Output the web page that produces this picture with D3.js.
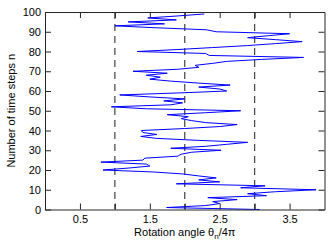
<!DOCTYPE html>
<html>
<head>
<meta charset="utf-8">
<script src="https://cdn.jsdelivr.net/npm/d3@7/dist/d3.min.js"></script>
<style>
  body { margin: 0; background: #fff; }
  text { font-family: "Liberation Sans", Arial, sans-serif; }
</style>
</head>
<body>
<svg id="chart"></svg>
<script>
// rotation angle (theta_n / 4pi) read at each time step n
var steps = d3.range(0, 100)
var angles = [3.07, 1.74, 2.3, 2.5, 2.4, 2.75, 2.33, 3.17, 2.9, 3.3,
  3.88, 2.8, 3.15, 1.88, 2.5, 2.2, 2.45, 2.2, 1.97, 1.55,
  0.83, 1.2, 1.5, 1.45, 0.8, 1.4, 1.43, 1.9, 1.95, 2.1,
  2.52, 1.8, 2.3, 2.6, 2.9, 2.2, 1.6, 1.37, 1.6, 1.4,
  1.38, 2.0, 2.5, 2.75, 2.3, 2.1, 1.95, 2.05, 1.75, 2.3,
  2.8, 1.45, 0.95, 1.8, 1.97, 1.7, 2.0, 1.5, 1.07, 1.9,
  2.6, 2.5, 2.2, 2.65, 2.2, 1.8, 1.5, 1.65, 1.45, 1.75,
  1.26, 1.9, 2.2, 2.15, 2.4, 2.6, 3.1, 3.7, 2.35, 2.3,
  1.32, 1.9, 2.4, 2.9, 3.3, 3.68, 3.3, 2.9, 3.2, 3.5,
  2.45, 2.31, 1.6, 1.0, 1.71, 1.19, 1.88, 1.47, 1.9, 2.28]
var xTicks = [0.5, 1, 1.5, 2, 2.5, 3, 3.5]
var yTicks = [0, 10, 20, 30, 40, 50, 60, 70, 80, 90, 100]
var refLines = [1, 2, 3]

var margin = {top: 12, right: 4.5, bottom: 33.5, left: 45},
  W = 329, H = 243,
  width = W - margin.left - margin.right,
  height = H - margin.top - margin.bottom

var svg = d3.select("#chart").attr("width", W).attr("height", H)
var g = svg.append("g")
  .attr("transform", "translate(" + margin.left + "," + margin.top + ")")

var x = d3.scaleLinear().domain([0, 4]).range([0, width])
var y = d3.scaleLinear().domain([0, 100]).range([height, 0])

var axisColor = "#262626"

// dashed reference lines
g.selectAll(".ref")
  .data(refLines)
  .enter()
  .append("line")
  .attr("x1", function(d){ return x(d) })
  .attr("x2", function(d){ return x(d) })
  .attr("y1", 0)
  .attr("y2", height)
  .attr("stroke", "#444")
  .attr("stroke-width", 1.2)
  .attr("stroke-dasharray", "7,5")

// the walk
var line = d3.line()
  .x(function(d, i){ return x(d) })
  .y(function(d, i){ return y(steps[i]) })

g.append("path")
  .datum(angles)
  .attr("d", line)
  .attr("fill", "none")
  .attr("stroke", "#0000ff")
  .attr("stroke-width", 1)

// axes, ticks pointing inward
var fmtX = function(d){ return (d % 1 === 0) ? "" : d3.format(".1f")(d) }

var xb = g.append("g")
  .attr("transform", "translate(0," + height + ")")
  .call(d3.axisBottom(x).tickValues(xTicks).tickSizeInner(-6).tickSizeOuter(0).tickPadding(6).tickFormat(fmtX))
var xt = g.append("g")
  .call(d3.axisTop(x).tickValues(xTicks).tickSizeInner(-6).tickSizeOuter(0).tickFormat(""))
var yl = g.append("g")
  .call(d3.axisLeft(y).tickValues(yTicks).tickSizeInner(-6).tickSizeOuter(0).tickPadding(4))
var yr = g.append("g")
  .attr("transform", "translate(" + width + ",0)")
  .call(d3.axisRight(y).tickValues(yTicks).tickSizeInner(-6).tickSizeOuter(0).tickFormat(""))

;[xb, xt, yl, yr].forEach(function(a){
  a.selectAll("path").attr("stroke", axisColor)
  a.selectAll("line").attr("stroke", axisColor)
  a.selectAll("text")
    .attr("fill", "#000")
    .style("font-size", "11px")
    .style("font-family", "'Liberation Sans', Arial, sans-serif")
})

// axis labels
svg.append("text")
  .attr("transform", "translate(15," + (margin.top + height / 2) + ") rotate(-90)")
  .attr("text-anchor", "middle")
  .style("font-size", "11px")
  .text("Number of time steps n")

var xl = svg.append("text")
  .attr("x", margin.left + width / 2)
  .attr("y", 235.5)
  .attr("text-anchor", "middle")
  .style("font-size", "11px")
xl.append("tspan").text("Rotation angle \u03B8")
xl.append("tspan").attr("dy", 3).style("font-size", "8px").text("n")
xl.append("tspan").attr("dy", -3).text("/4\u03C0")
</script>
</body>
</html>
